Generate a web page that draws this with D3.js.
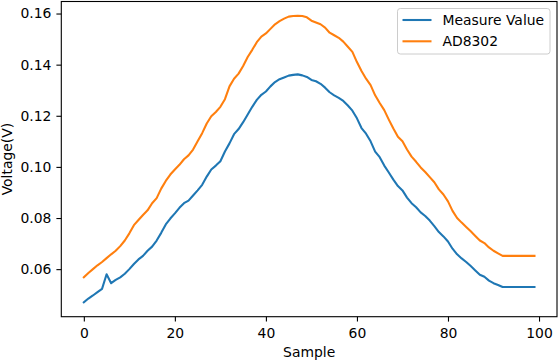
<!DOCTYPE html>
<html>
<head>
<meta charset="utf-8">
<script src="https://cdn.jsdelivr.net/npm/d3@7"></script>
<style>
  body { margin: 0; background: #fff; }
  svg { display: block; font-family: "DejaVu Sans", sans-serif; }
</style>
</head>
<body>
<div id="chart"></div>
<script>
// Data ----------------------------------------------------------------------------------------------------------------
const seriesNames = ["Measure Value", "AD8302"];
const seriesColors = ["#1f77b4", "#ff7f0e"];

const measureValue = [
  0.0470, 0.0485, 0.0497, 0.0510, 0.0523, 0.0580, 0.0545, 0.0558, 0.0568, 0.0582,
  0.0600, 0.0620, 0.0638, 0.0652, 0.0672, 0.0688, 0.0712, 0.0742, 0.0775, 0.0798,
  0.0818, 0.0840, 0.0858, 0.0868, 0.0888, 0.0908, 0.0930, 0.0962, 0.0990, 0.1005,
  0.1022, 0.1060, 0.1092, 0.1128, 0.1148, 0.1175, 0.1205, 0.1235, 0.1262, 0.1282,
  0.1295, 0.1315, 0.1332, 0.1343, 0.1350, 0.1357, 0.1360, 0.1362, 0.1358, 0.1352,
  0.1340, 0.1335, 0.1325, 0.1310, 0.1292, 0.1280, 0.1270, 0.1258, 0.1240, 0.1220,
  0.1190, 0.1152, 0.1130, 0.1100, 0.1060, 0.1038, 0.1005, 0.0978, 0.0950, 0.0925,
  0.0908, 0.0880, 0.0858, 0.0842, 0.0822, 0.0808, 0.0790, 0.0768, 0.0745, 0.0728,
  0.0708, 0.0680, 0.0658, 0.0642, 0.0628, 0.0612, 0.0595, 0.0578, 0.0570, 0.0555,
  0.0545, 0.0538, 0.0530, 0.0530, 0.0530, 0.0530, 0.0530, 0.0530, 0.0530, 0.0530
];

const ad8302 = [
  0.0568, 0.0585, 0.0600, 0.0615, 0.0628, 0.0643, 0.0658, 0.0672, 0.0690, 0.0712,
  0.0740, 0.0772, 0.0792, 0.0812, 0.0830, 0.0858, 0.0878, 0.0915, 0.0945, 0.0970,
  0.0990, 0.1008, 0.1030, 0.1045, 0.1068, 0.1100, 0.1132, 0.1170, 0.1198, 0.1215,
  0.1235, 0.1265, 0.1315, 0.1345, 0.1365, 0.1395, 0.1430, 0.1458, 0.1488, 0.1510,
  0.1522, 0.1540, 0.1558, 0.1570, 0.1580, 0.1588, 0.1590, 0.1591, 0.1590, 0.1585,
  0.1572, 0.1565, 0.1558, 0.1545, 0.1525, 0.1515, 0.1505, 0.1490, 0.1470, 0.1450,
  0.1410, 0.1375, 0.1345, 0.1320, 0.1280, 0.1250, 0.1222, 0.1185, 0.1150, 0.1118,
  0.1100, 0.1068, 0.1040, 0.1020, 0.0998, 0.0980, 0.0960, 0.0940, 0.0912, 0.0892,
  0.0865, 0.0828, 0.0800, 0.0782, 0.0765, 0.0748, 0.0730, 0.0712, 0.0702, 0.0685,
  0.0672, 0.0662, 0.0652, 0.0652, 0.0652, 0.0652, 0.0652, 0.0652, 0.0652, 0.0652
];

const xTicks = [0, 20, 40, 60, 80, 100];
const yTicks = [0.06, 0.08, 0.10, 0.12, 0.14, 0.16];

// Canvas --------------------------------------------------------------------------------------------------------------
const canvasWidth = 559;
const canvasHeight = 361;

const plotLeft = 61.3;
const plotRight = 557;
const plotTop = 1.5;
const plotBottom = 316.7;

const fontSize = 13.9;
const tickLength = 4.9;

const svg = d3.select("#chart")
  .append("svg")
  .attr("width", canvasWidth)
  .attr("height", canvasHeight);

// Scales (matplotlib style 5% margins) --------------------------------------------------------------------------------
const allValues = measureValue.concat(ad8302);
const n = measureValue.length;
const xPad = (n - 1) * 0.05;
const yMin = d3.min(allValues);
const yMax = d3.max(allValues);
const yPad = (yMax - yMin) * 0.05;

const xScale = d3.scaleLinear()
  .domain([-xPad, n - 1 + xPad])
  .range([plotLeft, plotRight]);
const yScale = d3.scaleLinear()
  .domain([yMin - yPad, yMax + yPad])
  .range([plotBottom, plotTop]);

// Lines ---------------------------------------------------------------------------------------------------------------
const line = d3.line()
  .x((d, i) => xScale(i))
  .y(d => yScale(d));

const plotGroup = svg.append("g");
[measureValue, ad8302].forEach(function(values, i) {
  plotGroup.append("path")
    .datum(values)
    .attr("d", line)
    .attr("fill", "none")
    .attr("stroke", seriesColors[i])
    .attr("stroke-width", 2.08)
    .attr("stroke-linejoin", "round")
    .attr("stroke-linecap", "square");
});

// Frame ---------------------------------------------------------------------------------------------------------------
svg.append("rect")
  .attr("x", plotLeft)
  .attr("y", plotTop)
  .attr("width", plotRight - plotLeft)
  .attr("height", plotBottom - plotTop)
  .attr("fill", "none")
  .attr("stroke", "#000")
  .attr("stroke-width", 1.1);

// Axes ----------------------------------------------------------------------------------------------------------------
const xAxis = svg.append("g")
  .attr("transform", "translate(0," + plotBottom + ")")
  .call(d3.axisBottom(xScale).tickValues(xTicks).tickSize(tickLength).tickPadding(7).tickFormat(d3.format("d")));
xAxis.select(".domain").remove();
xAxis.selectAll("line").attr("stroke-width", 1.1);
xAxis.selectAll("text")
  .attr("font-size", fontSize)
  .attr("font-family", "DejaVu Sans")
  .attr("fill", "#000");

const yAxis = svg.append("g")
  .attr("transform", "translate(" + plotLeft + ",0)")
  .call(d3.axisLeft(yScale).tickValues(yTicks).tickSize(tickLength).tickPadding(5).tickFormat(d3.format(".2f")));
yAxis.select(".domain").remove();
yAxis.selectAll("line").attr("stroke-width", 1.1);
yAxis.selectAll("text")
  .attr("font-size", fontSize)
  .attr("font-family", "DejaVu Sans")
  .attr("fill", "#000");

svg.append("text")
  .text("Sample")
  .attr("x", (plotLeft + plotRight) / 2)
  .attr("y", 357)
  .attr("text-anchor", "middle")
  .attr("font-size", fontSize);

svg.append("text")
  .text("Voltage(V)")
  .attr("transform", "translate(11.5," + ((plotTop + plotBottom) / 2) + ") rotate(-90)")
  .attr("text-anchor", "middle")
  .attr("font-size", fontSize);

// Legend --------------------------------------------------------------------------------------------------------------
const legendGroup = svg.append("g")
  .attr("transform", "translate(397.5,8.5)");

legendGroup.append("rect")
  .attr("width", 152.5)
  .attr("height", 45.5)
  .attr("rx", 2.8)
  .attr("fill", "#fff")
  .attr("fill-opacity", 0.8)
  .attr("stroke", "#cccccc");

seriesNames.forEach(function(name, i) {
  legendGroup.append("line")
    .attr("x1", 5)
    .attr("x2", 34)
    .attr("y1", 11.5 + i * 21.3)
    .attr("y2", 11.5 + i * 21.3)
    .attr("stroke", seriesColors[i])
    .attr("stroke-width", 2.08);
  legendGroup.append("text")
    .text(name)
    .attr("x", 45)
    .attr("y", 11.5 + i * 21.3)
    .attr("dy", "0.36em")
    .attr("font-size", fontSize);
});
</script>
</body>
</html>
